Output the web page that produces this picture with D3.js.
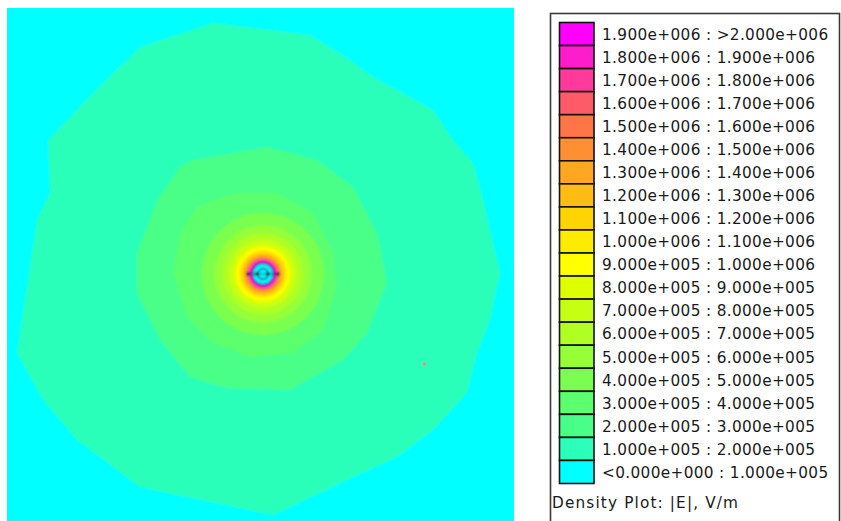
<!DOCTYPE html>
<html><head><meta charset="utf-8">
<script src="https://cdn.jsdelivr.net/npm/d3@7"></script>
<style>html,body{margin:0;padding:0;background:#fff;}svg{display:block;}</style>
</head><body>
<script>
// ---- data ----
// contour level lower bounds (V/m), top of legend first
const levels = [1.9e6,1.8e6,1.7e6,1.6e6,1.5e6,1.4e6,1.3e6,1.2e6,1.1e6,1.0e6,9e5,8e5,7e5,6e5,5e5,4e5,3e5,2e5,1e5,0];
const levelColors = ["#ff00ff","#ff1dcb","#ff3a9a","#ff5a68","#ff7546","#ff8f33","#ffa622","#ffbd14","#ffd400","#ffeb00",
  "#ffff00","#ddff00","#c6ff12","#afff22","#96ff38","#7aff50","#5cff6e","#48ff88","#2cffb9","#00ffff"];
const legendLabels = ["1.900e+006 : >2.000e+006","1.800e+006 : 1.900e+006","1.700e+006 : 1.800e+006","1.600e+006 : 1.700e+006",
  "1.500e+006 : 1.600e+006","1.400e+006 : 1.500e+006","1.300e+006 : 1.400e+006","1.200e+006 : 1.300e+006",
  "1.100e+006 : 1.200e+006","1.000e+006 : 1.100e+006","9.000e+005 : 1.000e+006","8.000e+005 : 9.000e+005",
  "7.000e+005 : 8.000e+005","6.000e+005 : 7.000e+005","5.000e+005 : 6.000e+005","4.000e+005 : 5.000e+005",
  "3.000e+005 : 4.000e+005","2.000e+005 : 3.000e+005","1.000e+005 : 2.000e+005","<0.000e+000 : 1.000e+005"];
const legendTitle = "Density Plot: |E|, V/m";

// contour boundaries (mm, conductor centre at origin)
const contour1e5 = [[-123,227],[-50,251],[47,239],[87,214],[110,197],[170,164],[190,134],[210,111],[217,87],[237,1],[227,-46],
  [214,-79],[204,-119],[170,-156],[134,-183],[90,-203],[10,-241],[-76,-223],[-123,-213],[-186,-166],[-220,-126],[-246,-79],
  [-226,54],[-213,81],[-215,134],[-170,181]];
const contour2e5 = [[-70,114],[4,127],[54,114],[90,87],[114,41],[124,-9],[104,-59],[80,-86],[27,-116],[-36,-114],[-73,-103],
  [-103,-66],[-126,-19],[-126,21],[-106,74],[-83,107]];
const contour3e5 = [[-30,81],[14,81],[50,61],[70,21],[74,-13],[60,-56],[30,-79],[-13,-83],[-50,-69],[-76,-43],[-90,1],[-83,41],[-66,67]];
// near-field circular contours: level -> radius (mm)
const ringLevels = [4e5,5e5,6e5,7e5,8e5,9e5,1.0e6,1.1e6,1.2e6,1.3e6,1.4e6,1.5e6,1.6e6,1.7e6,1.8e6,1.9e6];
const ringRadii  = [61,48.5,40.5,34.5,30.2,26.8,24.2,22,20.2,18.6,17.3,16.1,15.1,14.2,13.4,12.7];
const conductorRadius = 10.8, innerRadius = 5.2;
const nodePoints = [[-15,0],[-6,0],[5,0],[15,0]];
const markerPoint = [161,-90];

// ---- layout ----
const W = 841, H = 521;
const svg = d3.select("body").append("svg").attr("width", W).attr("height", H);
const plot = {x0: 7, y0: 8, x1: 514, y1: 521};
const x = d3.scaleLinear().domain([-256, 251]).range([plot.x0, plot.x1]);
const y = d3.scaleLinear().domain([266, -247]).range([plot.y0, plot.y1]);
const color = d3.scaleOrdinal().domain(levels).range(levelColors);
const k = x(1) - x(0);

const defs = svg.append("defs");
defs.append("clipPath").attr("id","clip").append("rect")
  .attr("x", plot.x0).attr("y", plot.y0).attr("width", plot.x1-plot.x0).attr("height", plot.y1-plot.y0);
defs.append("filter").attr("id","soft").attr("x","-5%").attr("y","-5%").attr("width","110%").attr("height","110%")
  .append("feGaussianBlur").attr("stdDeviation", 1.1);

const clipG = svg.append("g").attr("clip-path","url(#clip)");
const field = clipG.append("g").attr("filter","url(#soft)");
field.append("rect").attr("x", plot.x0-10).attr("y", plot.y0-10)
  .attr("width", plot.x1-plot.x0+20).attr("height", plot.y1-plot.y0+20).attr("fill", color(0));

const line = d3.line().x(d => x(d[0])).y(d => y(d[1])).curve(d3.curveLinearClosed);
[[1e5, contour1e5],[2e5, contour2e5],[3e5, contour3e5]].forEach(([lv, pts]) => {
  field.append("path").attr("d", line(pts)).attr("fill", color(lv));
});
field.selectAll("circle.ring").data(ringLevels.map((lv,i)=>({lv, r: ringRadii[i]})))
  .join("circle").attr("class","ring")
  .attr("cx", x(0)).attr("cy", y(0)).attr("r", d => d.r*k).attr("fill", d => color(d.lv));
// conductor (field-free interior)
field.append("circle").attr("cx", x(0)).attr("cy", y(0)).attr("r", conductorRadius*k)
  .attr("fill", color(0)).attr("stroke", "#2a1f8a").attr("stroke-width", 1.8);
field.append("circle").attr("cx", x(0)).attr("cy", y(0)).attr("r", innerRadius*k)
  .attr("fill", color(0)).attr("stroke", "#2a2a80").attr("stroke-width", 1.4);
field.append("line").attr("x1", x(-15)).attr("x2", x(15)).attr("y1", y(0)).attr("y2", y(0))
  .attr("stroke", "#2a2a60").attr("stroke-width", 0.8);
field.selectAll("circle.node").data(nodePoints).join("circle").attr("class","node")
  .attr("cx", d => x(d[0])).attr("cy", d => y(d[1])).attr("r", 1.9).attr("fill", "#1a1a3a");
field.append("rect").attr("x", x(markerPoint[0])-1).attr("y", y(markerPoint[1])-1.5)
  .attr("width", 2.5).attr("height", 3).attr("fill", "#e0306a");

// ---- legend ----
const FONT = "DejaVu Sans, Verdana, sans-serif";
const lg = svg.append("g");
lg.append("rect").attr("x", 550.5).attr("y", 13.5).attr("width", 289).attr("height", 520)
  .attr("fill", "#fff").attr("stroke", "#3a3a3a").attr("stroke-width", 1.6);
const rowH = 23.05, rowTop = 22.5;
const rows = lg.selectAll("g.row").data(levels).join("g").attr("class","row")
  .attr("transform", (d,i) => `translate(0,${rowTop + i*rowH})`);
rows.append("rect").attr("x", 559.5).attr("y", 0).attr("width", 34.5).attr("height", rowH)
  .attr("fill", d => color(d)).attr("stroke", "#111").attr("stroke-width", 1.6);
const labels = rows.append("text").attr("x", 602).attr("y", rowH/2 + 5.8)
  .attr("font-family", FONT).attr("font-size", 15.3).attr("letter-spacing", 0.35)
  .attr("fill", "#1a1a1a").text((d,i) => legendLabels[i]);
lg.append("text").attr("x", 552).attr("y", 507.5)
  .attr("font-family", FONT).attr("font-size", 15.3)
  .attr("textLength", 186).attr("lengthAdjust", "spacing")
  .attr("fill", "#1a1a1a").text(legendTitle);
</script>
</body></html>
